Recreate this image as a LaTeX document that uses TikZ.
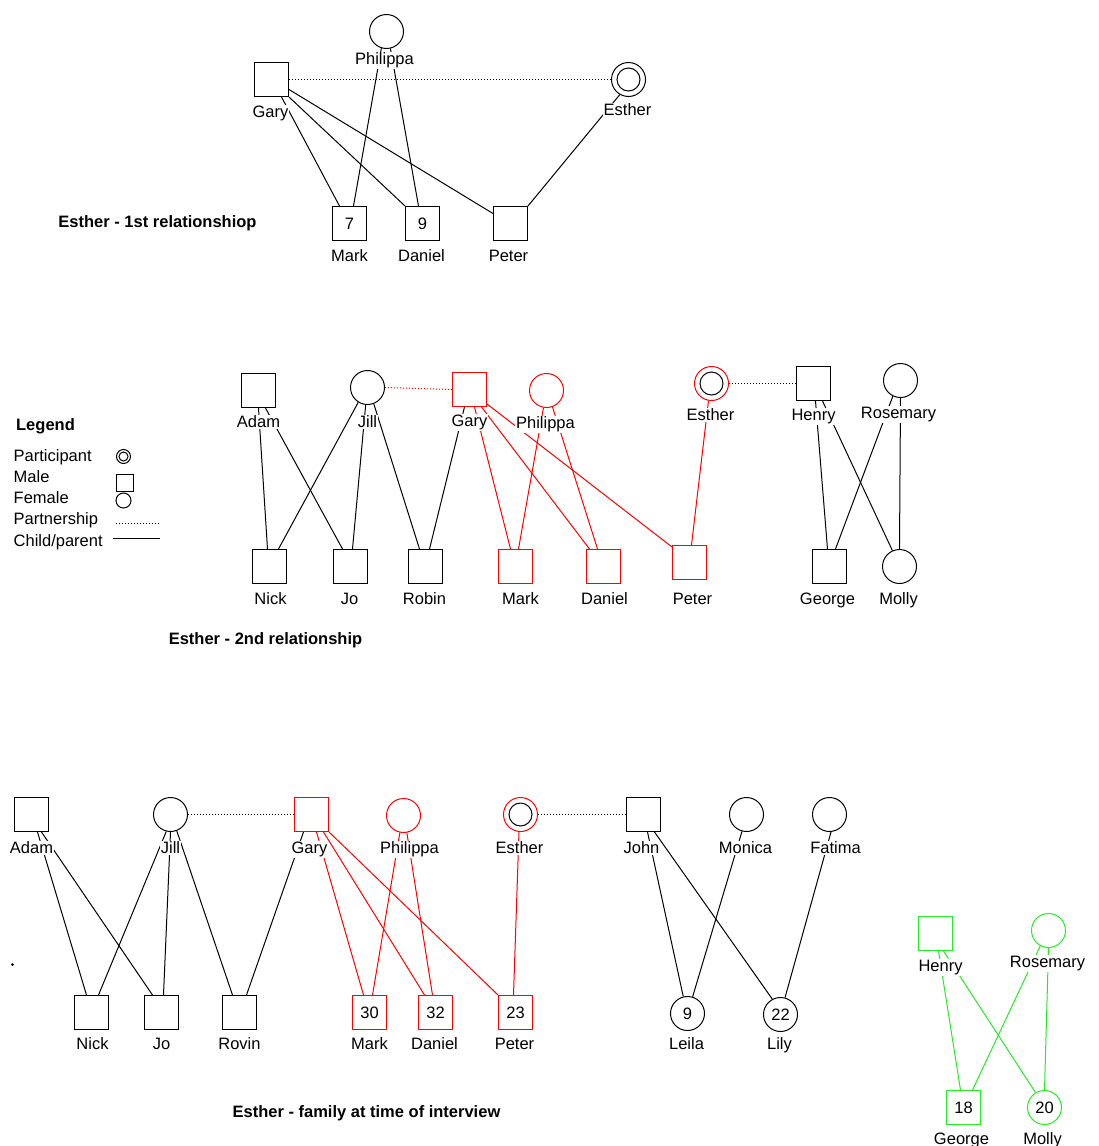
\documentclass[tikz,border=0pt]{standalone}
\usepackage{fontspec}
\setmainfont{Liberation Sans}
\definecolor{pred}{RGB}{255,0,0}
\definecolor{pgreen}{RGB}{40,235,40}
\begin{document}
\begin{tikzpicture}[x=1pt,y=-1pt,
  lab/.style={font=\fontsize{16.5}{19}\selectfont, fill=white, inner sep=1pt, anchor=base},
  ttl/.style={font=\fontsize{16.5}{19}\selectfont\bfseries, inner sep=0pt, anchor=base},
  male/.style={draw, rectangle, minimum size=34pt, inner sep=0pt, line width=1pt, font=\fontsize{16.5}{19}\selectfont},
  female/.style={draw, circle, minimum size=34pt, inner sep=0pt, line width=1pt, font=\fontsize{16.5}{19}\selectfont},
  part/.style={female, path picture={\draw[black,line width=1pt] (path picture bounding box.center) circle (11.5pt);}},
  rel/.style={line width=1pt},
  partner/.style={line width=1pt, dotted},
]
\fill[white] (0,0) rectangle (1098,1146);
\useasboundingbox (0,0) rectangle (1098,1146);
\begin{scope}[xshift=0.5pt, yshift=-0.5pt]
% ---------- top: 1st relationship ----------
\node[female] (tphil) at (386,31) {};
\node[male] (tgary) at (271,79) {};
\node[part] (testh) at (628,79) {};
\node[male] (tmark) at (349,223) {7};
\node[male] (tdan) at (422,223) {9};
\node[male] (tpet) at (510,223) {};
\draw[partner] (tgary.east) -- (testh.west);
\draw[rel] ([xshift=10pt]tgary.south) -- ([xshift=-10pt]tmark.north);
\draw[rel] (tgary.south east) -- (tdan.north west);
\draw[rel] ([yshift=-10pt]tgary.east) -- ([yshift=10pt]tpet.west);
\draw[rel] (tphil.253) -- ([xshift=4pt]tmark.north);
\draw[rel] (tphil.283) -- ([xshift=-4pt]tdan.north);
\draw[rel] (testh.240) -- (tpet.north east);
\node[lab] (ltphil) at (384,64) {Philippa};
\node[lab] (ltgary) at (270,117) {Gary};
\node[lab] (ltesth) at (627,115) {Esther};
\node[lab] (ltmark) at (349,261) {Mark};
\node[lab] (ltdan) at (421,261) {Daniel};
\node[lab] (ltpet) at (508,261) {Peter};
\node[ttl] (ttop) at (157,227) {Esther - 1st relationshiop};

% ---------- legend ----------
\node[ttl] (legt) at (45,430) {Legend};
\node[lab, anchor=base west] (lpart) at (12,461) {Participant};
\node[lab, anchor=base west] (lmale) at (12,482) {Male};
\node[lab, anchor=base west] (lfem) at (12,503) {Female};
\node[lab, anchor=base west] (lpartn) at (12,524) {Partnership};
\node[lab, anchor=base west] (lchild) at (12,546) {Child/parent};
\node[draw, circle, minimum size=14pt, inner sep=0pt, line width=1pt,
  path picture={\draw[line width=1pt] (path picture bounding box.center) circle (4.5pt);}] (lsp) at (123,456) {};
\node[draw, rectangle, minimum size=17pt, inner sep=0pt, line width=1pt] (lsm) at (124,482) {};
\node[draw, circle, minimum size=15pt, inner sep=0pt, line width=1pt] (lsf) at (123,500) {};
\coordinate (lpa1) at (115,523);
\coordinate (lpa2) at (159,523);
\coordinate (lch1) at (112,538);
\coordinate (lch2) at (159,538);
\draw[partner] (lpa1) -- (lpa2);
\draw[rel] (lch1) -- (lch2);

% ---------- middle: 2nd relationship ----------
\node[male] (madam) at (258,390) {};
\node[female] (mjill) at (367,387) {};
\node[male, draw=pred] (mgary) at (469,389) {};
\node[female, draw=pred] (mphil) at (546,390) {};
\node[part, draw=pred] (mesth) at (711,383) {};
\node[male] (mhen) at (813,383) {};
\node[female] (mros) at (900,380) {};
\node[male] (mnick) at (269,566) {};
\node[male] (mjo) at (350,566) {};
\node[male] (mrob) at (425,566) {};
\node[male, draw=pred] (mmark) at (515,566) {};
\node[male, draw=pred] (mdan) at (603,566) {};
\node[male, draw=pred] (mpet) at (689,562) {};
\node[male] (mgeo) at (829,566) {};
\node[female] (mmol) at (899,566) {};
\draw[partner, pred] (mjill.east) -- (mgary.west);
\draw[partner] (mesth.east) -- (mhen.west);
\draw[rel] (madam.south) -- ([xshift=-2pt]mnick.north);
\draw[rel] ([xshift=7pt]madam.south) -- ([xshift=-8pt]mjo.north);
\draw[rel] (mjill.238) -- ([xshift=9pt]mnick.north);
\draw[rel] (mjill.264) -- ([xshift=2pt]mjo.north);
\draw[rel] (mjill.291) -- ([xshift=-6pt]mrob.north);
\draw[rel] ([xshift=-5pt]mgary.south) -- ([xshift=4pt]mrob.north);
\draw[rel, pred] ([xshift=5pt]mgary.south) -- ([xshift=-5pt]mmark.north);
\draw[rel, pred] ([xshift=12pt]mgary.south) -- ([xshift=-14pt]mdan.north);
\draw[rel, pred] ([yshift=3pt]mgary.south east) -- ([yshift=-2pt]mpet.north west);
\draw[rel, pred] (mphil.260) -- ([xshift=3pt]mmark.north);
\draw[rel, pred] (mphil.290) -- ([xshift=-6pt]mdan.north);
\draw[rel, pred] (mesth.260) -- ([xshift=2pt]mpet.north);
\draw[rel] ([xshift=2pt]mhen.south) -- ([xshift=-2pt]mgeo.north);
\draw[rel] ([xshift=9pt]mhen.south) -- (mmol.114);
\draw[rel] (mros.244) -- ([xshift=6pt]mgeo.north);
\draw[rel] (mros.south) -- (mmol.north);
\node[lab] (lmadam) at (258,427) {Adam};
\node[lab] (lmjill) at (367,427) {Jill};
\node[lab] (lmgary) at (469,426) {Gary};
\node[lab] (lmphil) at (545,428) {Philippa};
\node[lab] (lmesth) at (710,420) {Esther};
\node[lab] (lmhen) at (813,420) {Henry};
\node[lab] (lmros) at (898,418) {Rosemary};
\node[lab] (lmnick) at (270,604) {Nick};
\node[lab] (lmjo) at (349,604) {Jo};
\node[lab] (lmrob) at (424,604) {Robin};
\node[lab] (lmmark) at (520,604) {Mark};
\node[lab] (lmdan) at (604,604) {Daniel};
\node[lab] (lmpet) at (692,604) {Peter};
\node[lab] (lmgeo) at (827,604) {George};
\node[lab] (lmmol) at (898,604) {Molly};
\node[ttl] (tmid) at (265,644) {Esther - 2nd relationship};

% ---------- bottom: family at time of interview ----------
\node[male] (badam) at (31,814) {};
\node[female] (bjill) at (170,814) {};
\node[male, draw=pred] (bgary) at (311,814) {};
\node[female, draw=pred] (bphil) at (403,815) {};
\node[part, draw=pred] (besth) at (520,814) {};
\node[male] (bjohn) at (643,814) {};
\node[female] (bmon) at (746,814) {};
\node[female] (bfat) at (829,814) {};
\node[male] (bnick) at (91,1012) {};
\node[male] (bjo) at (161,1012) {};
\node[male] (brov) at (239,1012) {};
\node[male, draw=pred] (bmark) at (369,1012) {30};
\node[male, draw=pred] (bdan) at (435,1012) {32};
\node[male, draw=pred] (bpet) at (515,1012) {23};
\node[female] (blei) at (687,1013) {9};
\node[female] (blil) at (780,1014) {22};
\node[circle, fill, inner sep=0pt, minimum size=3pt] (bdot) at (12,964) {};
\draw[partner] (bjill.east) -- (bgary.west);
\draw[partner] (besth.east) -- (bjohn.west);
\draw[rel] ([xshift=6pt]badam.south) -- ([xshift=-5pt]bnick.north);
\draw[rel] ([xshift=10pt]badam.south) -- ([xshift=-9pt]bjo.north);
\draw[rel] (bjill.256) -- ([xshift=7pt]bnick.north);
\draw[rel] (bjill.south) -- ([xshift=2pt]bjo.north);
\draw[rel] (bjill.291) -- ([xshift=-7pt]brov.north);
\draw[rel] ([xshift=-8pt]bgary.south) -- ([xshift=7pt]brov.north);
\draw[rel, pred] ([xshift=5pt]bgary.south) -- ([xshift=-6pt]bmark.north);
\draw[rel, pred] ([xshift=12pt]bgary.south) -- ([xshift=-11pt]bdan.north);
\draw[rel, pred] (bgary.south east) -- (bpet.north west);
\draw[rel, pred] (bphil.258) -- ([xshift=3pt]bmark.north);
\draw[rel, pred] (bphil.281) -- ([xshift=-3pt]bdan.north);
\draw[rel, pred] (besth.265) -- ([xshift=-2pt]bpet.north);
\draw[rel] ([xshift=4pt]bjohn.south) -- (blei.104);
\draw[rel] ([xshift=11pt]bjohn.south) -- (blil.118);
\draw[rel] (bmon.255) -- (blei.73);
\draw[rel] (bfat.275) -- (blil.75);
\node[lab] (lbadam) at (31,853) {Adam};
\node[lab] (lbjill) at (170,853) {Jill};
\node[lab] (lbgary) at (309,853) {Gary};
\node[lab] (lbphil) at (409,853) {Philippa};
\node[lab] (lbesth) at (519,853) {Esther};
\node[lab] (lbjohn) at (641,853) {John};
\node[lab] (lbmon) at (745,853) {Monica};
\node[lab] (lbfat) at (835,853) {Fatima};
\node[lab] (lbnick) at (92,1049) {Nick};
\node[lab] (lbjo) at (161,1049) {Jo};
\node[lab] (lbrov) at (239,1049) {Rovin};
\node[lab] (lbmark) at (369,1049) {Mark};
\node[lab] (lbdan) at (434,1049) {Daniel};
\node[lab] (lbpet) at (514,1049) {Peter};
\node[lab] (lblei) at (686,1049) {Leila};
\node[lab] (lblil) at (779,1049) {Lily};
\node[ttl] (tbot) at (366,1117) {Esther - family at time of interview};

% ---------- green group ----------
\node[male, draw=pgreen] (ghen) at (935,933) {};
\node[female, draw=pgreen] (gros) at (1048,930) {};
\node[male, draw=pgreen] (ggeo) at (963,1107) {18};
\node[female, draw=pgreen] (gmol) at (1044,1107) {20};
\draw[rel, pgreen] ([xshift=3pt]ghen.south) -- ([xshift=-3pt]ggeo.north);
\draw[rel, pgreen] ([xshift=8pt]ghen.south) -- (gmol.121);
\draw[rel, pgreen] (gros.242) -- ([xshift=9pt]ggeo.north);
\draw[rel, pgreen] (gros.south) -- (gmol.north);
\node[lab] (lghen) at (940,971) {Henry};
\node[lab] (lgros) at (1047,967) {Rosemary};
\node[lab] (lggeo) at (961,1144) {George};
\node[lab] (lgmol) at (1042,1144) {Molly};
\end{scope}
\end{tikzpicture}
\end{document}
